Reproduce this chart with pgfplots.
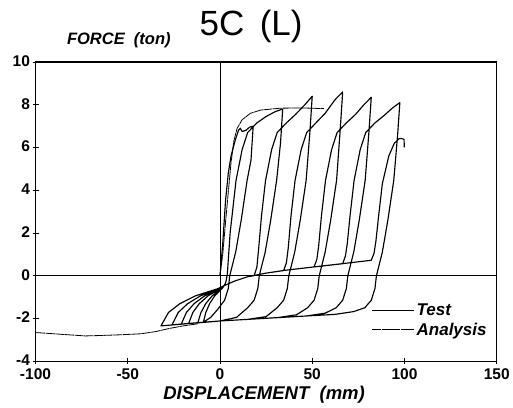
\documentclass[border=0pt]{standalone}
\usepackage{pgfplots}
\pgfplotsset{compat=1.18}
\usepackage{fontspec}
\setmainfont{Liberation Sans}
\begin{document}
\begin{tikzpicture}
\begin{axis}[
  scale only axis, width=461pt, height=299pt,
  xmin=-100, xmax=150, ymin=-4, ymax=10,
  xtick={-100,-50,0,50,100,150}, ytick={-4,-2,0,2,4,6,8,10},
  xtick pos=bottom, ytick pos=left,
  tick align=center, major tick length=6pt,
  tick style={black, line width=0.8pt},
  axis line style={black, line width=1.1pt},
  ticklabel style={font=\fontsize{15.5}{17}\selectfont\bfseries},
  xticklabel style={yshift=-1pt},
  yticklabel style={xshift=1pt, yshift=1pt},
  /pgf/number format/assume math mode=true,
  extra x ticks={0}, extra x tick labels={},
  extra x tick style={grid=major, major grid style={black, line width=0.9pt}, major tick length=0pt},
  extra y ticks={0}, extra y tick labels={},
  extra y tick style={grid=major, major grid style={black, line width=0.9pt}, major tick length=0pt},
  legend style={at={(rel axis cs:0.728,0.2)}, anchor=north west, draw=none, fill=none,
    font=\fontsize{17}{19}\selectfont\bfseries\itshape, row sep=2pt, inner sep=0pt},
  legend cell align=left,
  legend image code/.code={\draw[#1] (0pt,0pt) -- (34pt,0pt); \path (0pt,0pt) -- (42pt,0pt);},
]
\addplot[black, line width=1.15pt, line join=round] coordinates {
(0,0) (1.5,1.5) (3,3.5) (4.5,4.8) (6,5.6) (7.5,6.1) (8.5,6.4) (10,6.8) (11,6.9) (12,6.75) (14,6.8) (16,6.95) (18,7.0)
(16.8,5.4) (14.7,4.46) (11.5,2.6) (8.5,1.1) (5.3,0) (4.5,-0.6) (2.5,-1.15) (-1,-1.55) (-5,-1.95) (-9,-2.18)
(-7.66,-1.72) (-5.64,-1.31) (-2.84,-0.94) (1.08,-0.61) (2.2,-0.47)
(3.2,-0.3) (4,0.1) (5.5,2.0) (8.7,4.46) (12,5.9) (15,6.7) (20,7.15) (25,7.45) (30,7.68) (34,7.8)
(32.8,6.2) (30.7,4.46) (27.5,2.6) (24.5,1.1) (21.3,0) (20.5,-0.6) (18.5,-1.15) (15,-1.5) (9,-1.95) (0,-2.12) (-6,-2.16) (-12,-2.2)
(-10.3,-1.72) (-7.74,-1.31) (-4.19,-0.94) (0.78,-0.61) (2.2,-0.47)
(8,-0.25) (15,-0.05) (18.5,0.0) (20,0.4) (21,1.3) (22.5,2.8) (24.7,4.46) (28,5.9) (31,6.7) (36,7.15) (41,7.55) (46,8.0) (50,8.4)
(48.8,6.8) (46.7,4.46) (43.5,2.6) (40.5,1.1) (37.3,0) (36.5,-0.6) (34.5,-1.15) (31,-1.5) (25,-1.915) (15,-2.045) (0,-2.12) (-8,-2.18) (-17,-2.24)
(-14.7,-1.72) (-11.24,-1.31) (-6.44,-0.94) (0.28,-0.61) (2.2,-0.47)
(8,-0.25) (15,-0.05) (25,0.12) (34.5,0.24) (36,0.6) (37,1.3) (38.5,2.8) (40.7,4.46) (44,5.9) (47,6.7) (52,7.15) (57,7.6) (62.5,8.25) (66.5,8.6)
(65.3,7.0) (63.2,4.46) (60,2.6) (57,1.1) (53.8,0) (53,-0.6) (51,-1.15) (47.5,-1.5) (41.5,-1.83) (31.5,-1.96) (15,-2.045) (0,-2.12) (-10,-2.19) (-21,-2.27)
(-18.2,-1.72) (-14.04,-1.31) (-8.24,-0.94) (-0.12,-0.61) (2.2,-0.47)
(8,-0.25) (15,-0.05) (25,0.12) (35,0.25) (44,0.34) (51,0.41) (52.5,0.76) (53.5,1.4) (55,2.8) (57.2,4.46) (60.5,5.9) (63.5,6.7) (68.5,7.15) (73.5,7.55) (78,8.0) (82,8.35)
(80.8,6.8) (78.7,4.46) (75.5,2.6) (72.5,1.1) (69.3,0) (68.5,-0.6) (66.5,-1.15) (63,-1.5) (57,-1.755) (47,-1.885) (30,-1.97) (15,-2.045) (0,-2.12) (-12,-2.2) (-26,-2.3)
(-22.6,-1.72) (-17.54,-1.31) (-10.49,-0.94) (-0.62,-0.61) (2.2,-0.47)
(8,-0.25) (15,-0.05) (25,0.12) (35,0.25) (50,0.4) (66.5,0.56) (68,0.92) (69,1.5) (70.5,2.8) (72.7,4.46) (76,5.9) (79,6.7) (84,7.15) (89,7.5) (93.5,7.85) (97.5,8.1)
(96.3,6.6) (94.2,4.46) (91,2.6) (88,1.1) (84.8,0) (84,-0.6) (82,-1.15) (78.5,-1.5) (72.5,-1.68) (62.5,-1.81) (45,-1.895) (25,-1.995) (0,-2.12) (-15,-2.225) (-32,-2.35)
(-27.9,-1.72) (-21.74,-1.31) (-13.19,-0.94) (-1.22,-0.61) (2.2,-0.47)
(8,-0.25) (15,-0.05) (25,0.12) (35,0.25) (50,0.4) (65,0.55) (82,0.72) (83.5,1.05) (84.5,1.6) (86,2.8) (88,4.3) (91.5,5.6) (94.5,6.2) (97.2,6.42) (98.5,6.42) (99.8,6.38) (99.9,6.0)
};
\addlegendentry{Test}
\addplot[black, line width=0.8pt, dash pattern=on 9pt off 0.6pt, line join=round] coordinates {
(0,0) (1.5,1.0) (3,2.5) (4.6,4.0) (6,5.3) (7.5,6.3) (9.3,6.9) (12,7.3) (16.5,7.6) (22,7.75) (32.8,7.84) (45,7.85) (56.3,7.82)
};
\addlegendentry{Analysis}
\addplot[black, line width=0.8pt, dash pattern=on 9pt off 0.6pt, line join=round, forget plot] coordinates {
(-12,-2.25) (-20,-2.35) (-28,-2.48) (-35,-2.62) (-43,-2.72) (-55,-2.77) (-65,-2.8) (-73,-2.82) (-85,-2.75) (-100,-2.66)
};
\end{axis}
\node[font=\fontsize{35}{37}\selectfont] at ([shift={(-15pt,36pt)}]current axis.north) {5C\,\ (L)};
\node[anchor=west, font=\fontsize{16.5}{18}\selectfont\bfseries\itshape] at ([shift={(28pt,22pt)}]current axis.north west) {FORCE\ \ (ton)};
\node[font=\fontsize{18.5}{20}\selectfont\bfseries\itshape] at ([shift={(-2pt,-34pt)}]current axis.south) {DISPLACEMENT\ \ (mm)};
\pgfresetboundingbox
\path ([shift={(-35.5pt,-46pt)}]current axis.south west) rectangle ([shift={(16.3pt,62pt)}]current axis.north east);
\end{tikzpicture}
\end{document}
